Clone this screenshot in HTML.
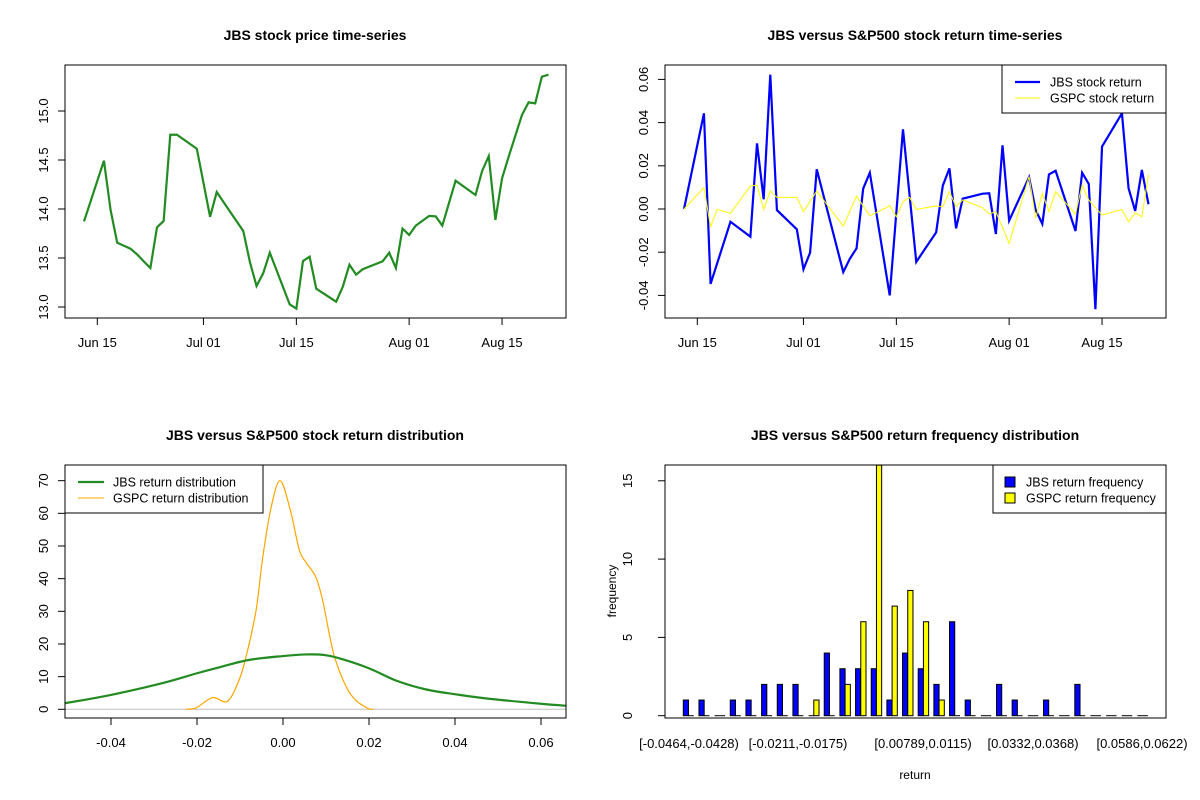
<!DOCTYPE html>
<html><head><meta charset="utf-8">
<style>
html,body{margin:0;padding:0;background:#fff;}
svg{display:block;font-family:"Liberation Sans",Arial,sans-serif;}
text{fill:#000;}
</style></head>
<body>
<svg id="chart" width="1200" height="800" viewBox="0 0 1200 800"></svg>
<script>
// ---------- data ----------
const priceDays = [-2,1,2,3,5,6,7,8,9,10,11,12,15,17,18,20,22,23,24,25,26,29,30,31,32,33,36,37,38,39,40,43,44,45,46,47,48,50,51,52,54,57,58,59,60,61,62,64,65,66,67,68];
const priceValues = [13.874,14.493,13.99,13.656,13.595,13.537,13.466,13.398,13.813,13.878,14.758,14.758,14.615,13.92,14.173,13.973,13.776,13.459,13.214,13.344,13.554,13.027,12.983,13.469,13.513,13.187,13.054,13.207,13.432,13.33,13.385,13.466,13.554,13.398,13.8,13.735,13.83,13.929,13.925,13.83,14.289,14.143,14.388,14.54,13.888,14.313,14.534,14.959,15.088,15.078,15.35,15.37];
const dateTickDays = [0,16,30,47,61];
const dateTickLabels = ["Jun 15","Jul 01","Jul 15","Aug 01","Aug 15"];
const priceTicks = [13.0,13.5,14.0,14.5,15.0];

const jbsRetDays = [-2,1,2,5,8,9,10,11,12,15,16,17,18,22,23,24,25,26,29,31,33,36,37,38,39,40,43,44,45,46,47,50,51,52,53,54,57,58,59,60,61,64,65,66,67,68];
const jbsRetValues = [0,0.0443,-0.0347,-0.0059,-0.0128,0.0304,0.0045,0.0622,-0.0005,-0.0094,-0.0279,-0.0202,0.0184,-0.0292,-0.023,-0.0182,0.0094,0.0168,-0.04,0.0369,-0.0245,-0.0108,0.0108,0.0188,-0.009,0.0048,0.0071,0.0073,-0.0116,0.0295,-0.0054,0.0147,-0.0005,-0.0069,0.016,0.0177,-0.0102,0.0168,0.0116,-0.0464,0.0289,0.0443,0.0096,-0.0009,0.0181,0.0022];
const gspcRetDays = [-2,1,2,3,5,8,9,10,11,12,15,16,18,22,24,26,29,30,31,32,33,36,37,38,39,40,43,44,45,47,50,51,52,53,54,57,58,59,61,64,65,66,67,68];
const gspcRetValues = [0,0.0099,-0.0082,-0.0002,-0.002,0.0106,0.0111,-0.0002,0.0083,0.0054,0.0054,-0.0012,0.0083,-0.0079,0.006,-0.0032,0.0015,-0.0036,0.0034,0.0054,-0.0002,0.0014,0.0011,0.008,0.0011,0.0042,0.0006,-0.0023,-0.0012,-0.0159,0.015,-0.0043,0.0073,-0.0012,0.008,-0.0023,0.0111,0.0042,-0.0028,-0.0002,-0.0059,-0.0017,-0.0036,0.0158];
const returnTicks = [-0.04,-0.02,0.00,0.02,0.04,0.06];

const jbsDensX = [-0.051,-0.04,-0.0281,-0.0201,-0.0147,-0.008,0,0.0055,0.0097,0.0139,0.0201,0.0265,0.0332,0.0401,0.0474,0.06,0.0667];
const jbsDensY = [1.8,4.4,8,11,12.9,15.1,16.3,16.8,16.6,15.3,12.5,8.7,6.1,4.6,3.3,1.7,1.0];
const gspcDensX = [-0.0226,-0.0201,-0.0164,-0.013,-0.0105,-0.0088,-0.0063,-0.0048,-0.0029,-0.0007,0.0017,0.0038,0.0055,0.0076,0.0092,0.0109,0.0122,0.0147,0.0168,0.0197,0.021];
const gspcDensY = [0,0.5,3.6,2.4,8,15,30,45.7,61,70,61,48.8,44.7,40.6,33.5,22.2,15.1,6.9,2.9,0.3,0];
const densXTicks = [-0.04,-0.02,0.00,0.02,0.04,0.06];
const densYTicks = [0,10,20,30,40,50,60,70];

const jbsFreq = [1,1,0,1,1,2,2,2,0,4,3,3,3,1,4,3,2,6,1,0,2,1,0,1,0,2,0,0,0,0];
const gspcFreq = [0,0,0,0,0,0,0,0,1,0,2,6,16,7,8,6,1,0,0,0,0,0,0,0,0,0,0,0,0,0];
const binLabels = ["[-0.0464,-0.0428)","[-0.0211,-0.0175)","[0.00789,0.0115)","[0.0332,0.0368)","[0.0586,0.0622)"];
const freqTicks = [0,5,10,15];

// ---------- helpers ----------
const svg = document.getElementById('chart');
const NS = 'http://www.w3.org/2000/svg';
function mk(tag, attrs, parent){
  const e = document.createElementNS(NS, tag);
  for (const k in attrs) e.setAttribute(k, attrs[k]);
  (parent||svg).appendChild(e);
  return e;
}
function txt(str, x, y, opts, parent){
  const t = mk('text', Object.assign({x:x, y:y, 'font-size':13, 'text-anchor':'middle'}, opts||{}), parent);
  t.textContent = str;
  return t;
}
function smoothPath(pts){
  let d = 'M'+pts[0][0]+','+pts[0][1];
  for (let i=0;i<pts.length-1;i++){
    const p0=pts[i-1]||pts[i], p1=pts[i], p2=pts[i+1], p3=pts[i+2]||p2;
    const c1=[p1[0]+(p2[0]-p0[0])/6, p1[1]+(p2[1]-p0[1])/6];
    const c2=[p2[0]-(p3[0]-p1[0])/6, p2[1]-(p3[1]-p1[1])/6];
    d += ' C'+c1[0]+','+c1[1]+' '+c2[0]+','+c2[1]+' '+p2[0]+','+p2[1];
  }
  return d;
}

// ---------- panel 1: price ----------
const P1 = {l:65,r:566,t:65,b:318};
const dx1 = d => 97.3 + d*6.635;
const py = v => 307 - (v-13)*98;
let g = mk('g',{});


let e = txt('JBS stock price time-series', 315, 40, {'font-weight':'bold','font-size':14}, g);
 
e = mk('polyline',{points: priceDays.map((d,i)=>dx1(d)+','+py(priceValues[i])).join(' '), fill:'none', stroke:'#228B22', 'stroke-width':2.2}, g);
 
e = mk('rect',{x:P1.l,y:P1.t,width:P1.r-P1.l,height:P1.b-P1.t,fill:'none',stroke:'#000','stroke-width':1}, g);
 
dateTickDays.forEach((d,i)=>{
  mk('line',{x1:dx1(d),x2:dx1(d),y1:P1.b,y2:P1.b+7,stroke:'#000'},g);
  const t = txt(dateTickLabels[i], dx1(d), 347, {}, g);
   
});
priceTicks.forEach(v=>{
  mk('line',{x1:P1.l-7,x2:P1.l,y1:py(v),y2:py(v),stroke:'#000'},g);
  const t = txt(v.toFixed(1), 0, 0, {transform:'translate(48,'+py(v)+') rotate(-90)'}, g);
   
});

// ---------- panel 2: returns ----------
const P2 = {l:665,r:1166,t:65,b:318};
const dx2 = d => 697.3 + d*6.635;
const ry = v => 209 - v*2160;
g = mk('g',{});


e = txt('JBS versus S&P500 stock return time-series', 915, 40, {'font-weight':'bold','font-size':14}, g);
 
e = mk('polyline',{points: jbsRetDays.map((d,i)=>dx2(d)+','+ry(jbsRetValues[i])).join(' '), fill:'none', stroke:'#0000FF', 'stroke-width':2.2}, g);
 
e = mk('polyline',{points: gspcRetDays.map((d,i)=>dx2(d)+','+ry(gspcRetValues[i])).join(' '), fill:'none', stroke:'#FFFF00', 'stroke-width':1}, g);
 
e = mk('rect',{x:P2.l,y:P2.t,width:P2.r-P2.l,height:P2.b-P2.t,fill:'none',stroke:'#000'}, g);
 
dateTickDays.forEach((d,i)=>{
  mk('line',{x1:dx2(d),x2:dx2(d),y1:P2.b,y2:P2.b+7,stroke:'#000'},g);
  const t = txt(dateTickLabels[i], dx2(d), 347, {}, g);
   
});
returnTicks.forEach(v=>{
  mk('line',{x1:P2.l-7,x2:P2.l,y1:ry(v),y2:ry(v),stroke:'#000'},g);
  const t = txt(v.toFixed(2), 0, 0, {transform:'translate(648,'+ry(v)+') rotate(-90)'}, g);
   
});
let lg = mk('g',{},g);
 
mk('rect',{x:1002,y:65,width:164,height:48,fill:'#fff',stroke:'#000'},lg);
mk('line',{x1:1015,x2:1040,y1:82,y2:82,stroke:'#0000FF','stroke-width':2.2},lg);
mk('line',{x1:1015,x2:1040,y1:98,y2:98,stroke:'#FFFF00','stroke-width':1},lg);
txt('JBS stock return',1050,86.5,{'text-anchor':'start','font-size':12.5},lg);
txt('GSPC stock return',1050,102.5,{'text-anchor':'start','font-size':12.5},lg);

// ---------- panel 3: density ----------
const P3 = {l:65,r:566,t:465,b:718};
const dxv = v => 283 + v*4300;
const dyv = v => 709.3 - v*3.266;
g = mk('g',{});


e = txt('JBS versus S&P500 stock return distribution', 315, 440, {'font-weight':'bold','font-size':14}, g);
 
const cp3 = mk('clipPath',{id:'c3'},g);
mk('rect',{x:P3.l,y:P3.t,width:P3.r-P3.l,height:P3.b-P3.t},cp3);
e = mk('line',{x1:P3.l,x2:P3.r,y1:dyv(0),y2:dyv(0),stroke:'#BEBEBE'},g);
 
e = mk('path',{d:smoothPath(gspcDensX.map((x,i)=>[dxv(x),dyv(gspcDensY[i])])),fill:'none',stroke:'#FFA500','stroke-width':1.2,'clip-path':'url(#c3)'},g);
 
e = mk('path',{d:smoothPath(jbsDensX.map((x,i)=>[dxv(x),dyv(jbsDensY[i])])),fill:'none',stroke:'#228B22','stroke-width':2.2,'clip-path':'url(#c3)'},g);
 
e = mk('rect',{x:P3.l,y:P3.t,width:P3.r-P3.l,height:P3.b-P3.t,fill:'none',stroke:'#000'}, g);
 
densXTicks.forEach(v=>{
  mk('line',{x1:dxv(v),x2:dxv(v),y1:P3.b,y2:P3.b+7,stroke:'#000'},g);
  const t = txt(v.toFixed(2), dxv(v), 747, {}, g);
   
});
densYTicks.forEach(v=>{
  mk('line',{x1:P3.l-7,x2:P3.l,y1:dyv(v),y2:dyv(v),stroke:'#000'},g);
  const t = txt(String(v), 0, 0, {transform:'translate(48,'+dyv(v)+') rotate(-90)'}, g);
   
});
lg = mk('g',{},g);
 
mk('rect',{x:65,y:465,width:198,height:48,fill:'#fff',stroke:'#000'},lg);
mk('line',{x1:78,x2:104,y1:482,y2:482,stroke:'#228B22','stroke-width':2.2},lg);
mk('line',{x1:78,x2:104,y1:498,y2:498,stroke:'#FFA500','stroke-width':1},lg);
txt('JBS return distribution',113,486.5,{'text-anchor':'start','font-size':12.5},lg);
txt('GSPC return distribution',113,502.5,{'text-anchor':'start','font-size':12.5},lg);

// ---------- panel 4: frequency bars ----------
const P4 = {l:665,r:1166,t:465,b:718};
const grp = i => 683.3 + i*15.66;
const bw = 5.22;
const fy = v => 715.7 - v*15.66;
g = mk('g',{});


e = txt('JBS versus S&P500 return frequency distribution', 915, 440, {'font-weight':'bold','font-size':14}, g);
 
const cp4 = mk('clipPath',{id:'c4'},g);
mk('rect',{x:P4.l,y:P4.t,width:P4.r-P4.l,height:P4.b-P4.t},cp4);
const bars = mk('g',{'clip-path':'url(#c4)'},g);
function drawBar(x, v, color){
  if (v === 0){
    const l = mk('line',{x1:x,x2:x+bw,y1:fy(0),y2:fy(0),stroke:'#000','stroke-width':1},bars);
    return l;
  }
  return mk('rect',{x:x,y:fy(v),width:bw,height:fy(0)-fy(v),fill:color,stroke:'#000','stroke-width':1},bars);
}
jbsFreq.forEach((v,i)=>{
  const r = drawBar(grp(i), v, '#0000FF');
  
  
});
gspcFreq.forEach((v,i)=>{
  const r = drawBar(grp(i)+bw, v, '#FFFF00');
  
  
});
e = mk('rect',{x:P4.l,y:P4.t,width:P4.r-P4.l,height:P4.b-P4.t,fill:'none',stroke:'#000'}, g);
 
freqTicks.forEach(v=>{
  mk('line',{x1:P4.l-7,x2:P4.l,y1:fy(v),y2:fy(v),stroke:'#000'},g);
  const t = txt(String(v), 0, 0, {transform:'translate(632,'+fy(v)+') rotate(-90)'}, g);
   
});
const labelCenters = [689,798,923,1033,1142];
binLabels.forEach((s,k)=>{
  const t = txt(s, labelCenters[k], 748, {}, g);
   
});
e = txt('return', 915, 779, {'font-size':12}, g);
 
e = txt('frequency', 0, 0, {'font-size':12, transform:'translate(616,591) rotate(-90)'}, g);
 
lg = mk('g',{},g);
 
mk('rect',{x:993,y:465,width:173,height:48,fill:'#fff',stroke:'#000'},lg);
mk('rect',{x:1005,y:477,width:10,height:10,fill:'#0000FF',stroke:'#000'},lg);
mk('rect',{x:1005,y:493,width:10,height:10,fill:'#FFFF00',stroke:'#000'},lg);
txt('JBS return frequency',1026,486.5,{'text-anchor':'start','font-size':12.5},lg);
txt('GSPC return frequency',1026,502.5,{'text-anchor':'start','font-size':12.5},lg);
</script>
</body></html>
